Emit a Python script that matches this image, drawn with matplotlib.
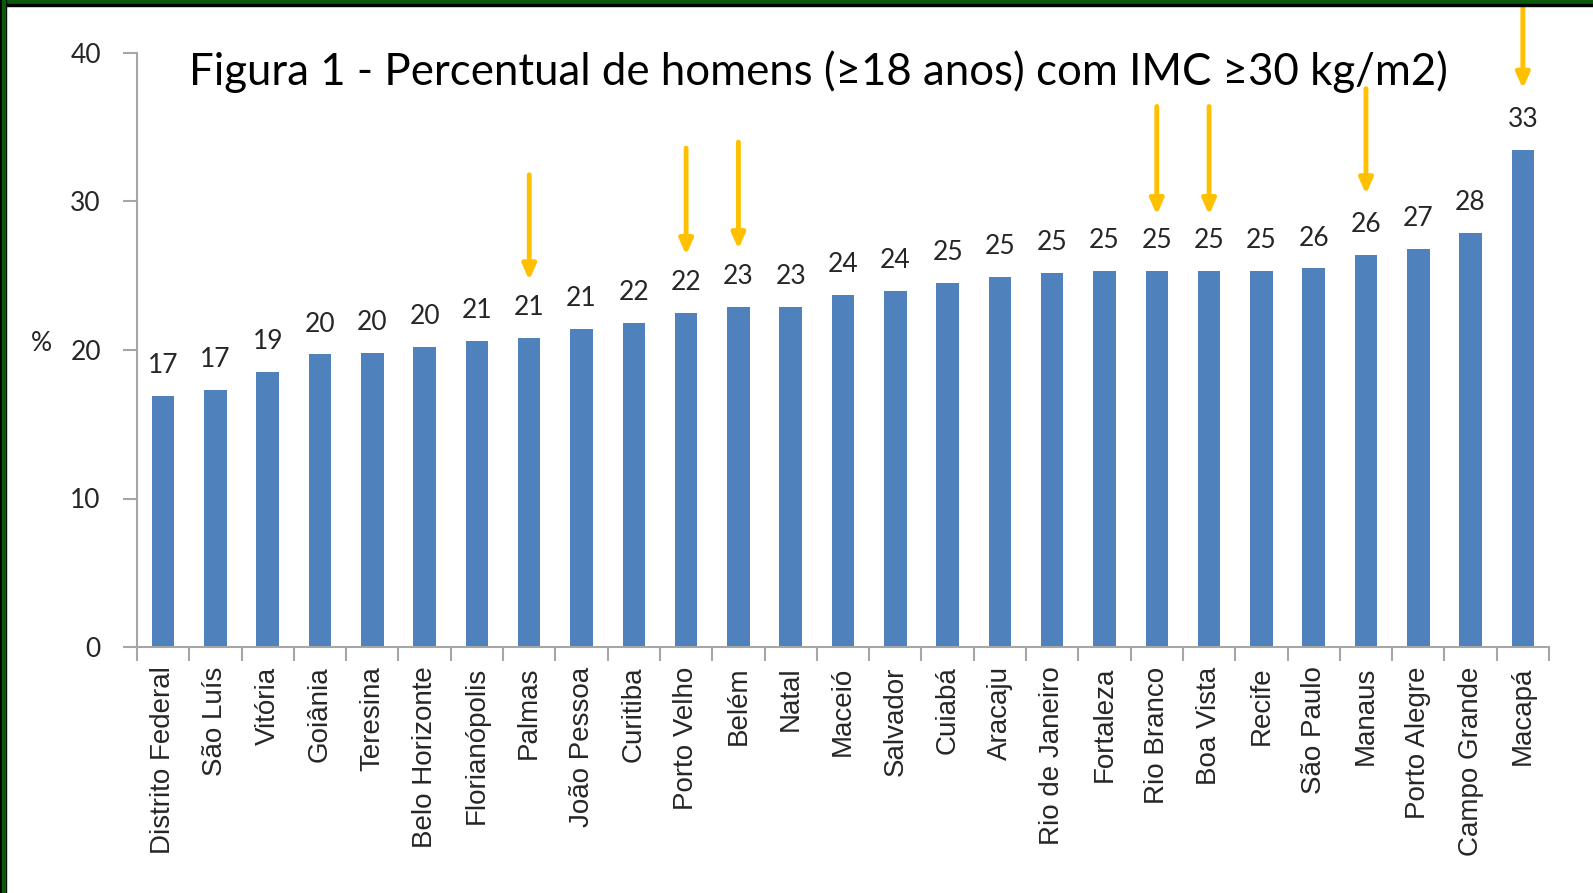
import matplotlib.pyplot as plt
from matplotlib.patches import Rectangle

# ==================================================
# DATA
# ==================================================

cities = ["Distrito Federal", "São Luís", "Vitória", "Goiânia", "Teresina",
          "Belo Horizonte", "Florianópolis", "Palmas", "João Pessoa", "Curitiba",
          "Porto Velho", "Belém", "Natal", "Maceió", "Salvador", "Cuiabá",
          "Aracaju", "Rio de Janeiro", "Fortaleza", "Rio Branco", "Boa Vista",
          "Recife", "São Paulo", "Manaus", "Porto Alegre", "Campo Grande", "Macapá"]

values = [16.9, 17.3, 18.5, 19.7, 19.8, 20.2, 20.6, 20.8, 21.4, 21.8,
          22.5, 22.9, 22.9, 23.7, 24.0, 24.5, 24.9, 25.2, 25.3, 25.3,
          25.3, 25.3, 25.5, 26.4, 26.8, 27.9, 33.5]

labels = [17, 17, 19, 20, 20, 20, 21, 21, 21, 22, 22, 23, 23, 24, 24, 25,
          25, 25, 25, 25, 25, 25, 26, 26, 27, 28, 33]

# highlighted cities: (city, arrow tip, arrow tail) in %
arrow_city = ["Palmas", "Porto Velho", "Belém", "Rio Branco", "Boa Vista", "Manaus", "Macapá"]
arrow_tip = [24.7, 26.4, 26.8, 29.1, 29.1, 30.5, 37.6]
arrow_tail = [31.8, 33.6, 34.0, 36.4, 36.4, 37.6, 43.8]

yticks = [0, 10, 20, 30, 40]

title = "Figura 1 - Percentual de homens (≥18 anos) com IMC ≥30 kg/m2)"

# ==================================================
# PLOT
# ==================================================

num_font = "Lato"
txt_color = "#262626"

fig = plt.figure(figsize=(15.93, 8.93), dpi=100)
ax = fig.add_axes([137 / 1593, 1 - 647 / 893, (1549 - 137) / 1593, (647 - 53) / 893])

x = list(range(len(cities)))
ax.bar(x, values, width=0.43, color="#4F81BD", zorder=2)

for xi, v, lab in zip(x, values, labels):
    ax.text(xi, v + 1.2, str(lab), ha="center", va="bottom",
            fontsize=19, color=txt_color, family=num_font)

for c, tip, tail in zip(arrow_city, arrow_tip, arrow_tail):
    xi = cities.index(c)
    ax.annotate("", xy=(xi, tip), xytext=(xi, tail), annotation_clip=False,
                arrowprops=dict(arrowstyle="-|>,head_length=0.9,head_width=0.4",
                                color="#FFC000", lw=3.5, shrinkA=0, shrinkB=0))

ax.set_xlim(-0.5, len(cities) - 0.5)
ax.set_ylim(0, 40)

ax.set_yticks(yticks)
ax.set_yticklabels([str(t) for t in yticks], fontsize=19, color=txt_color, family=num_font)
ax.set_xticks(x)
ax.set_xticklabels(cities, rotation=90, fontsize=20, color=txt_color, family="Liberation Sans")
ax.set_xticks([i - 0.5 for i in range(len(cities) + 1)], minor=True)
ax.tick_params(axis="x", which="major", length=0, pad=14)
ax.tick_params(axis="x", which="minor", length=10, color="#A6A6A6", width=1.5)
ax.tick_params(axis="y", length=10, color="#A6A6A6", width=1.5, pad=16)

ax.set_ylabel("%", rotation=0, fontsize=19, color=txt_color, family=num_font)
ax.yaxis.set_label_coords(-0.068, 0.49)

for s in ["top", "right"]:
    ax.spines[s].set_visible(False)
for s in ["left", "bottom"]:
    ax.spines[s].set_color("#A6A6A6")
    ax.spines[s].set_linewidth(1.5)

fig.text(0.514, 1 - 72 / 893, title, ha="center", va="center",
         fontsize=31.5, color="black", family="Lato")

# frame around the slide
fig.patches.append(Rectangle((0, 1 - 3.5 / 893), 1, 3.5 / 893, transform=fig.transFigure,
                             color="#0B5A0B", zorder=10))
fig.patches.append(Rectangle((0, 1 - 6 / 893), 1, 2.5 / 893, transform=fig.transFigure,
                             color="black", zorder=10))
fig.patches.append(Rectangle((0, 0), 6 / 1593, 1, transform=fig.transFigure,
                             color="black", zorder=10))
fig.patches.append(Rectangle((1.5 / 1593, 0), 3 / 1593, 1, transform=fig.transFigure,
                             color="#0B5A0B", zorder=11))

plt.savefig("out.png", dpi=100)
